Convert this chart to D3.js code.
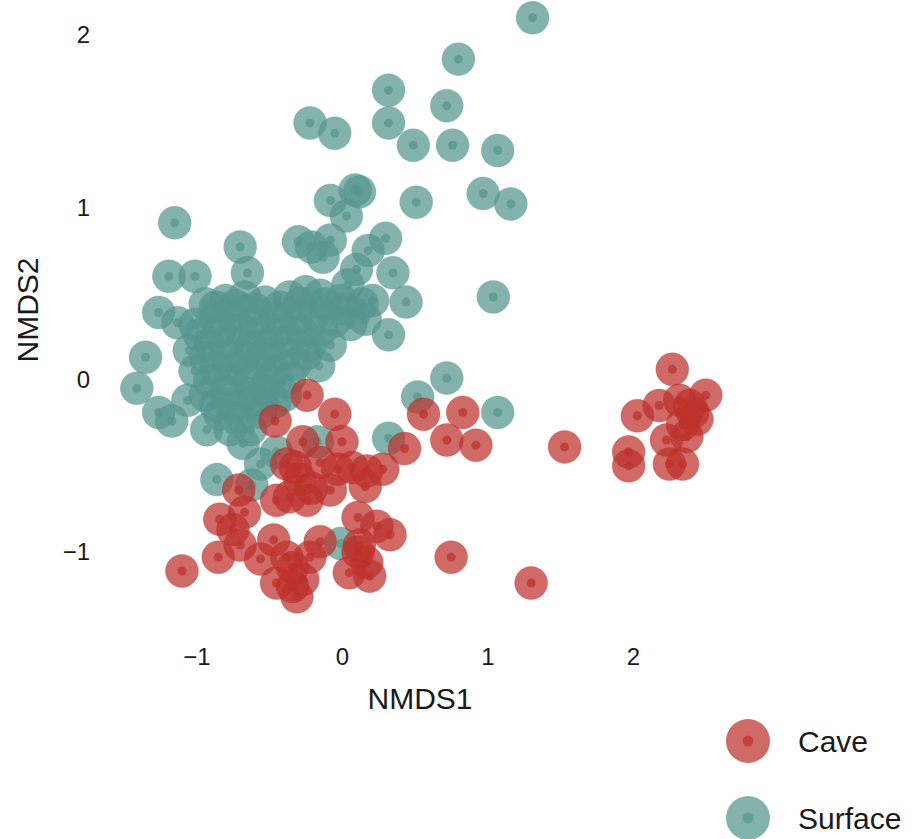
<!DOCTYPE html>
<html>
<head>
<meta charset="utf-8">
<script src="https://cdn.jsdelivr.net/npm/d3@7/dist/d3.min.js"></script>
<style>
  html, body { margin: 0; padding: 0; background: #ffffff; }
  svg { display: block; }
  text { font-family: "Liberation Sans", Arial, Helvetica, sans-serif; fill: #1a1a1a; }
</style>
</head>
<body>
<svg id="chart" width="917" height="839"></svg>
<script>
// NMDS ordination scores per sample, split by habitat
const surfaceX = [
  1.31, 0.80, 0.32, 0.72, -0.22, -0.05, 0.32, 0.49, 0.76, 1.07,
  -0.08, 0.09, 0.12, 0.03, 0.51, 0.97, 1.16, 0.30, 0.18, 0.35,
  0.44, 0.32, 1.04, 0.72, 0.52, 1.07, -1.15, -0.70, -0.65, -1.19,
  -1.01, -1.26, -1.13, -1.35, -1.41, -1.26, -1.17, -1.06, -0.93, -0.68,
  -0.56, -0.86, -0.62, -0.17, -0.01, 0.32, -0.16, -0.30, -0.21, -0.08,
  -0.13, 0.10, 0.04, -0.01, 0.14, 0.06, 0.21, -0.45, 0.02, 0.16,
  -0.94, -0.80, -0.67, -0.53, -0.36, -0.25, -0.15, -1.01, -0.87, -0.74,
  -0.60, -0.46, -0.32, -0.19, -0.05, -1.05, -0.91, -0.77, -0.63, -0.50,
  -0.36, -0.22, -0.08, -1.01, -0.87, -0.74, -0.60, -0.46, -0.32, -0.94,
  -0.80, -0.67, -0.53, -0.39, -0.84, -0.70, -0.56, -0.63,
  -0.87, -0.74, -0.60, -0.43, -0.29, -0.12, -0.98, -0.84, -0.70, -0.55,
  -0.41, -0.28, -0.14, -0.94, -0.80, -0.67, -0.53, -0.39, -0.25, -0.91,
  -0.77, -0.63, -0.50, -0.36, -0.87, -0.74, -0.60, -0.46, -0.77
];
const surfaceY = [
  2.10, 1.86, 1.68, 1.59, 1.49, 1.43, 1.49, 1.36, 1.36, 1.33,
  1.04, 1.10, 1.09, 0.95, 1.03, 1.08, 1.02, 0.82, 0.75, 0.62,
  0.45, 0.26, 0.48, 0.01, -0.10, -0.19, 0.91, 0.77, 0.62, 0.60,
  0.60, 0.39, 0.33, 0.13, -0.05, -0.19, -0.24, -0.12, -0.29, -0.37,
  -0.49, -0.58, -0.61, -0.36, -0.95, -0.34, 0.08, 0.80, 0.77, 0.81,
  0.71, 0.64, 0.55, 0.46, 0.44, 0.32, 0.46, -0.42, 0.41, 0.35,
  0.44, 0.46, 0.48, 0.45, 0.48, 0.51, 0.49, 0.32, 0.35, 0.36,
  0.34, 0.36, 0.35, 0.38, 0.34, 0.17, 0.20, 0.22, 0.19, 0.20,
  0.23, 0.20, 0.20, 0.05, 0.07, 0.06, 0.09, 0.05, 0.09, -0.09,
  -0.07, -0.10, -0.06, -0.09, -0.20, -0.22, -0.19, -0.29,
  0.42, 0.43, 0.41, 0.42, 0.44, 0.44, 0.26, 0.28, 0.29, 0.27,
  0.29, 0.28, 0.29, 0.13, 0.14, 0.13, 0.15, 0.15, 0.15, -0.01,
  0.00, -0.01, 0.00, 0.01, -0.15, -0.15, -0.12, -0.13, -0.29
];
const caveX = [
  -0.24, -0.05, 0.00, -0.27, -0.46, 0.56, 0.83, 0.72, 0.92, 0.43,
  0.28, 1.53, 0.75, 1.30, -1.10, 2.27, 2.50, 2.18, 2.03, 2.32,
  2.41, 2.23, 2.37, 2.44, 2.34, 1.97, 1.97, 2.25, 2.34, 2.39,
  -0.38, -0.32, -0.15, -0.03, 0.07, 0.17, 0.16, -0.36, -0.45, -0.24,
  -0.21, -0.67, -0.71, -0.84, -0.75, -0.85, -0.70, -0.47, -0.38, -0.34,
  -0.45, -0.31, -0.27, -0.22, -0.15, 0.11, 0.33, 0.24, 0.05, 0.17,
  0.19, 0.11, -0.29, -0.08, -0.56, -0.34, 0.12
];
const caveY = [
  -0.09, -0.20, -0.36, -0.36, -0.24, -0.20, -0.19, -0.35, -0.38, -0.40,
  -0.52, -0.39, -1.03, -1.18, -1.11, 0.06, -0.09, -0.15, -0.21, -0.12,
  -0.19, -0.35, -0.33, -0.23, -0.26, -0.42, -0.50, -0.49, -0.49, -0.15,
  -0.49, -0.51, -0.48, -0.52, -0.51, -0.53, -0.62, -0.68, -0.70, -0.70,
  -0.63, -0.77, -0.64, -0.81, -0.87, -1.03, -0.96, -0.93, -1.03, -1.09,
  -1.18, -1.26, -1.16, -1.03, -0.94, -0.80, -0.90, -0.85, -1.12, -1.06,
  -1.14, -1.00, -0.58, -0.64, -1.04, -1.20, -0.96
];

const groups = ["Cave", "Surface"];
const groupColors = ["#bc302d", "#54968e"];
const xTicks = [-1, 0, 1, 2];
const yTicks = [-1, 0, 1, 2];

const svg = d3.select("#chart");

const x = d3.scaleLinear().domain([-1, 2]).range([196.5, 633]);
const y = d3.scaleLinear().domain([-1, 2]).range([552, 35]);
const color = d3.scaleOrdinal().domain(groups).range(groupColors);

// Axes: labels only, no lines or tick marks
const xAxis = svg.append("g")
  .attr("transform", "translate(0,639)")
  .call(d3.axisBottom(x).tickValues(xTicks).tickSize(0).tickPadding(9).tickFormat(d3.format("d")));
const yAxis = svg.append("g")
  .attr("transform", "translate(96,0)")
  .call(d3.axisLeft(y).tickValues(yTicks).tickSize(0).tickPadding(6).tickFormat(d3.format("d")));
[xAxis, yAxis].forEach(g => {
  g.select(".domain").remove();
  g.selectAll("text").style("font-size", "24px").attr("fill", "#1a1a1a")
    .style("font-family", "'Liberation Sans', Arial, sans-serif");
});

svg.append("text")
  .attr("x", 420).attr("y", 709)
  .attr("text-anchor", "middle")
  .style("font-size", "30px")
  .text("NMDS1");
svg.append("text")
  .attr("transform", "translate(38,310) rotate(-90)")
  .attr("text-anchor", "middle")
  .style("font-size", "30px")
  .text("NMDS2");

// Each sample: a large translucent disc with a small dot at its centre
function drawPoints(xs, ys, group) {
  const pts = xs.map((v, i) => ({ x: v, y: ys[i], group }));
  const g = svg.append("g");
  const p = g.selectAll("g").data(pts).join("g")
    .attr("transform", d => `translate(${x(d.x)},${y(d.y)})`);
  p.append("circle")
    .attr("r", 16.5)
    .attr("fill", d => color(d.group))
    .attr("fill-opacity", 0.72)
    .attr("stroke", d => color(d.group))
    .attr("stroke-opacity", 0.25)
    .attr("stroke-width", 1);
  p.append("circle")
    .attr("r", 4.5)
    .attr("fill", d => color(d.group))
    .attr("fill-opacity", 0.72);
}
drawPoints(surfaceX, surfaceY, "Surface");
drawPoints(caveX, caveY, "Cave");

// Legend
const legend = svg.append("g");
const li = legend.selectAll("g").data(groups).join("g")
  .attr("transform", (d, i) => `translate(748,${741 + i * 77})`);
li.append("circle").attr("r", 22)
  .attr("fill", d => color(d)).attr("fill-opacity", 0.72);
li.append("circle").attr("r", 5.5)
  .attr("fill", d => color(d)).attr("fill-opacity", 0.72);
li.append("text")
  .attr("x", 50).attr("dy", "0.36em")
  .style("font-size", "30px")
  .text(d => d);
</script>
</body>
</html>
